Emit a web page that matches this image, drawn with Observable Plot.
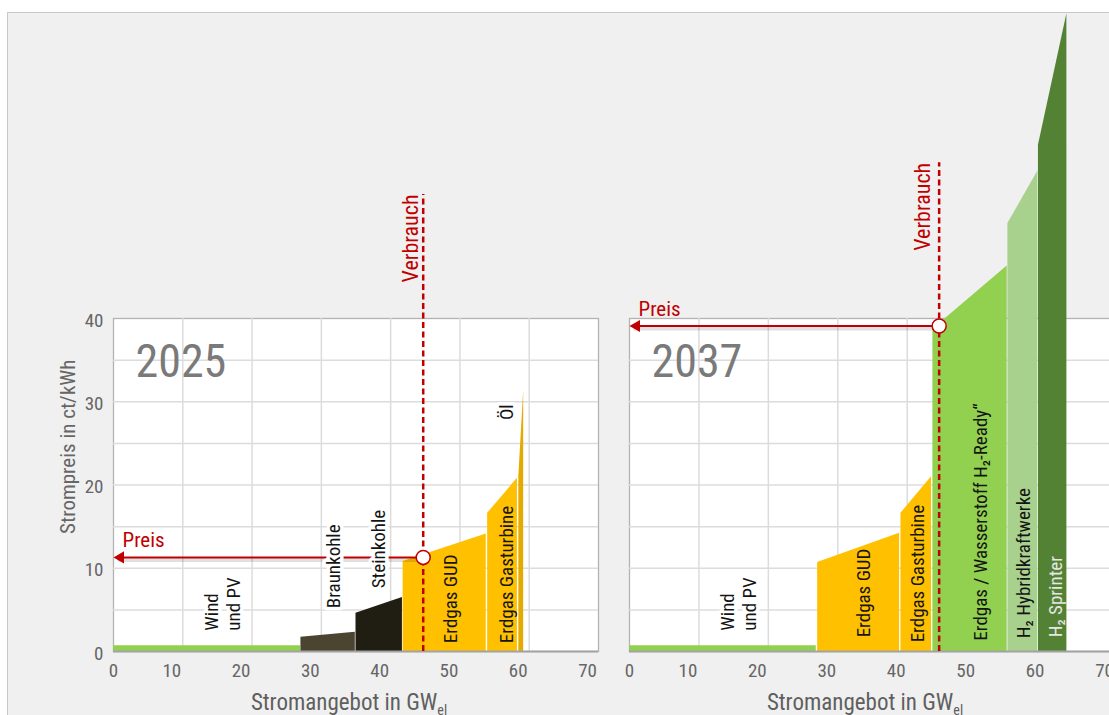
<!DOCTYPE html>
<html><head><meta charset="utf-8">
<script src="https://cdn.jsdelivr.net/npm/d3@7"></script>
<script src="https://cdn.jsdelivr.net/npm/@observablehq/plot@0.6"></script>
<style>
html,body{margin:0;padding:0;width:1109px;height:715px;overflow:hidden;background:#fff;}
body{position:relative;font-family:"Liberation Sans Narrow","Roboto Condensed","DejaVu Sans Condensed",Roboto,sans-serif;}
#bg{position:absolute;left:7px;top:12px;width:1120px;height:720px;background:#f0f0f0;border:1.5px solid #c9c9c9;box-sizing:border-box;}
.panel{position:absolute;left:0;top:0;}
.xlab{position:absolute;top:691px;font-size:23px;color:#5f5f5f;line-height:1;white-space:nowrap;transform:translateX(-50%);}
.xlab sub{font-size:14px;vertical-align:-5px;line-height:0}
</style></head>
<body>
<div id="bg"></div>
<div id="p2025" class="panel"></div>
<div id="p2037" class="panel"></div>
<div class="xlab" style="left:349px">Stromangebot in GW<sub>el</sub></div>
<div class="xlab" style="left:865px">Stromangebot in GW<sub>el</sub></div>
<script>
// ---------- data ----------
const xTicks = [0, 10, 20, 30, 40, 50, 60, 70];
const yTicks = [0, 10, 20, 30, 40];
const yGrid = [5, 10, 15, 20, 25, 30, 35];
const xGrid = [10, 20, 30, 40, 50, 60];
const yTitle = "Strompreis in ct/kWh";

// 2025 merit order (GW from/to, price ct/kWh at left/right edge)
const plants2025 = ["Wind und PV", "Braunkohle", "Steinkohle", "Erdgas GUD", "Erdgas Gasturbine", "Öl"];
const gwFrom2025 = [0, 27.05, 35.0, 41.8, 54.0, 58.5];
const gwTo2025 = [27.0, 34.9, 41.7, 53.8, 58.3, 59.2];
const priceFrom2025 = [0.7, 1.7, 4.6, 10.8, 16.6, 21.0];
const priceTo2025 = [0.7, 2.3, 6.5, 14.1, 20.8, 31.3];
const verbrauch2025 = 44.7;
const preis2025 = 11.3;
const verbrauchTop2025 = 54.9;

// 2037 merit order
const plants2037 = ["Wind und PV", "Erdgas GUD", "Erdgas Gasturbine", "Erdgas / Wasserstoff", "H2 Hybridkraftwerke", "H2 Sprinter"];
const gwFrom2037 = [0, 27.1, 39.1, 43.7, 54.5, 58.9];
const gwTo2037 = [26.9, 38.9, 43.5, 54.4, 58.8, 63.0];
const priceFrom2037 = [0.7, 10.7, 16.6, 38.7, 51.4, 60.8];
const priceTo2037 = [0.7, 14.2, 21.0, 46.3, 57.7, 76.6];
const verbrauch2037 = 44.6;
const preis2037 = 39.1;
const verbrauchTop2037 = 58.7;

// annotation texts
const labels2025 = ["Wind\nund PV", "Braunkohle", "Steinkohle", "Erdgas GUD", "Erdgas Gasturbine", "Öl"];
const labelGW2025 = [15.6, 31.7, 38.2, 48.6, 56.6, 56.7];
const labelPrice2025 = [2.5, 5.2, 7.6, 1.0, 1.0, 27.8];
const labels2037 = ["Wind\nund PV", "Erdgas GUD", "Erdgas Gasturbine", "Erdgas / Wasserstoff H₂-Ready“", "H₂ Hybridkraftwerke", "H₂ Sprinter"];
const labelGW2037 = [15.6, 33.7, 41.4, 50.5, 56.7, 61.3];
const labelPrice2037 = [2.5, 1.7, 1.1, 1.3, 1.6, 1.7];

// ---------- styles ----------
const RED = "#c00000";
const FONT = '"Liberation Sans Narrow","Roboto Condensed","DejaVu Sans Condensed",Roboto,sans-serif';
const colorMap = {
  "Wind und PV": "#92d050", "Braunkohle": "#4a4430", "Steinkohle": "#201d12",
  "Erdgas GUD": "#ffc000", "Erdgas Gasturbine": "#ffc000", "Öl": "#e3aa00",
  "Erdgas / Wasserstoff": "#92d050", "H2 Hybridkraftwerke": "#a9d18e", "H2 Sprinter": "#548235"
};
const haloLabels = new Set(["Wind\nund PV", "Braunkohle", "Steinkohle", "Öl"]);
const lightLabels = new Set(["H₂ Sprinter"]);

function panel(o) {
  const pts = o.names.flatMap((name, i) => [
    {name, gw: o.from[i], price: o.pFrom[i]},
    {name, gw: o.to[i], price: o.pTo[i]}
  ]);
  const labelMarks = o.labels.map((t, i) => Plot.text([t], {
    x: () => o.labelGW[i], y: () => o.labelPrice[i], text: d => d,
    rotate: -90, textAnchor: "start", lineAnchor: "middle", lineHeight: 1.15,
    fontSize: 19,
    fill: lightLabels.has(t) ? "#e6e6e6" : "#141414",
    stroke: haloLabels.has(t) ? "white" : undefined,
    strokeWidth: haloLabels.has(t) ? 7 : undefined,
    paintOrder: "stroke", strokeLinejoin: "round"
  }));
  return Plot.plot({
    width: o.width, height: 715,
    marginLeft: o.marginLeft, marginRight: o.marginRight, marginTop: 318, marginBottom: 64,
    x: {domain: [0, 70]},
    y: {domain: [0, 40], axis: null},
    color: {domain: o.names, range: o.names.map(n => colorMap[n])},
    style: {fontFamily: FONT, fontSize: "19px", background: "transparent", overflow: "visible", maxWidth: "none", color: "#141414"},
    marks: [
      Plot.frame({fill: "white", stroke: "#b3b3b3", strokeWidth: 1.3}),
      Plot.ruleY(yGrid, {x1: 0, x2: 70, stroke: "#dcdcdc", strokeWidth: 1.5}),
      Plot.ruleX(xGrid, {y1: 0, y2: 40, stroke: "#dcdcdc", strokeWidth: 1.5}),
      Plot.areaY(pts, {x: "gw", y: "price", fill: "name", z: "name", curve: "linear"}),
      Plot.ruleY([0], {x1: 0, x2: 70, stroke: "#a3a3a3", strokeWidth: 2}),
      // Preis arrow
      Plot.link([o.preis], {x1: () => o.verbrauch, x2: () => 0.6, y1: d => d, y2: d => d, stroke: "#000", strokeOpacity: 0.12, strokeWidth: 4, dy: 2.5}),
      Plot.link([o.preis], {x1: () => o.verbrauch, x2: () => 0.6, y1: d => d, y2: d => d, stroke: RED, strokeWidth: 2}),
      Plot.dot([o.preis], {x: () => 0, y: d => d, symbol: "triangle", rotate: -90, r: 4.5, fill: RED, dx: 7}),
      Plot.text([o.preis], {x: () => 0, y: d => d, text: () => "Preis", textAnchor: "start", lineAnchor: "middle", dx: 9, dy: -17, fill: RED, fontSize: 21}),
      ...labelMarks,
      // Verbrauch
      Plot.ruleX([o.verbrauch], {y1: () => 0, y2: () => o.verbrauchTop, stroke: RED, strokeWidth: 2.5, strokeDasharray: "6,3.5"}),
      Plot.text([o.verbrauch], {x: d => d, y: () => o.verbrauchTop, text: () => "Verbrauch", rotate: -90, textAnchor: "end", lineAnchor: "middle", dx: o.vdx, fill: RED, fontSize: 22}),
      Plot.dot([o.verbrauch], {x: d => d, y: () => o.preis, r: 7, fill: "white", stroke: RED, strokeWidth: 1.5}),
      // year
      Plot.text([o.year], {x: () => 0, y: () => 34.7, text: d => String(d), textAnchor: "start", lineAnchor: "middle", dx: 22, fontSize: 46, fill: "#7a7a7a"}),
      // axes
      Plot.axisX([0], {tickSize: 0, tickPadding: 12, fontSize: 19, fill: "#666", label: null}),
      Plot.axisX(xTicks.slice(1), {tickSize: 0, tickPadding: 12, dx: -11, fontSize: 19, fill: "#666", label: null}),
      o.showY ? Plot.axisY(yTicks, {tickSize: 0, tickPadding: 10, dy: 2, fontSize: 19, fill: "#666", label: null}) : null,
      o.showY ? Plot.text([yTitle], {x: () => 0, y: () => 24.6, text: d => d, rotate: -90, dx: -45, textAnchor: "middle", lineAnchor: "middle", fontSize: 21, fill: "#666"}) : null
    ]
  });
}

document.getElementById("p2025").append(panel({
  year: 2025, names: plants2025, from: gwFrom2025, to: gwTo2025, pFrom: priceFrom2025, pTo: priceTo2025,
  verbrauch: verbrauch2025, preis: preis2025, verbrauchTop: verbrauchTop2025,
  labels: labels2025, labelGW: labelGW2025, labelPrice: labelPrice2025,
  width: 1109, marginLeft: 113, marginRight: 511, showY: true, vdx: -12
}));
document.getElementById("p2037").append(panel({
  year: 2037, names: plants2037, from: gwFrom2037, to: gwTo2037, pFrom: priceFrom2037, pTo: priceTo2037,
  verbrauch: verbrauch2037, preis: preis2037, verbrauchTop: verbrauchTop2037,
  labels: labels2037, labelGW: labelGW2037, labelPrice: labelPrice2037,
  width: 1120, marginLeft: 629, marginRight: 5, showY: false, vdx: -16
}));
</script>
</body></html>
